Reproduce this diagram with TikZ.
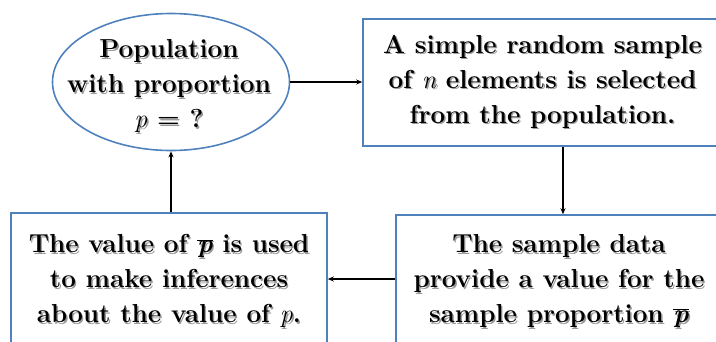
\documentclass[tikz,border=0pt]{standalone}
\usepackage{fontspec}
\usetikzlibrary{shapes.geometric,arrows.meta}
\definecolor{frameblue}{RGB}{79,129,189}
% text with a soft drop shadow
\newcommand\shd[1]{\leavevmode\rlap{\hspace{1.4pt}\raisebox{-1.4pt}{\color{black!40}#1}}#1}
% plain italic symbol and barred bold italic symbol
\newcommand\sym[1]{{\mdseries\itshape #1}}
\newcommand\pbar{\ensuremath{\overline{\mbox{\bfseries\itshape p}}}}
\begin{document}
\begin{tikzpicture}[x=1pt,y=-1pt,
  lbl/.style={font=\fontsize{26}{35}\selectfont\bfseries, align=center, inner sep=0pt},
  shapebox/.style={draw=frameblue, line width=1.6pt, inner sep=0pt},
  link/.style={-{Stealth[length=6pt,width=5pt]}, line width=1.4pt}]
\useasboundingbox (0,0) rectangle (716,341);
\clip (0,0) rectangle (716,341);

% population
\node[shapebox, ellipse, minimum width=237, minimum height=137] (pop) at (171,82) {};
\node[lbl] (poptext) at (169,87) {\shd{Population}\\ \shd{with proportion}\\ \shd{\sym{p} = ?}};

% sampling step
\node[shapebox, lbl, rectangle, minimum width=359, minimum height=127] (sample) at (542.5,82.5)
  {\shd{A simple random sample}\\ \shd{of \sym{n} elements is selected}\\ \shd{from the population.}};

% sample statistic
\node[shapebox, lbl, rectangle, minimum width=326, minimum height=134] (data) at (559,282)
  {\shd{The sample data}\\ \shd{provide a value for the}\\ \shd{sample proportion \pbar}};

% inference
\node[shapebox, lbl, rectangle, minimum width=316, minimum height=138] (infer) at (169,282)
  {\shd{The value of \pbar{} is used}\\ \shd{to make inferences}\\ \shd{about the value of \sym{p}.}};

\coordinate (downx) at (563,0);
\coordinate (lefty) at (0,279);

\draw[link] (pop.east) -- (pop.east -| sample.west);
\draw[link] (sample.south -| downx) -- (data.north -| downx);
\draw[link] (data.west |- lefty) -- (infer.east |- lefty);
\draw[link] (infer.north -| pop.south) -- (pop.south);
\end{tikzpicture}
\end{document}
